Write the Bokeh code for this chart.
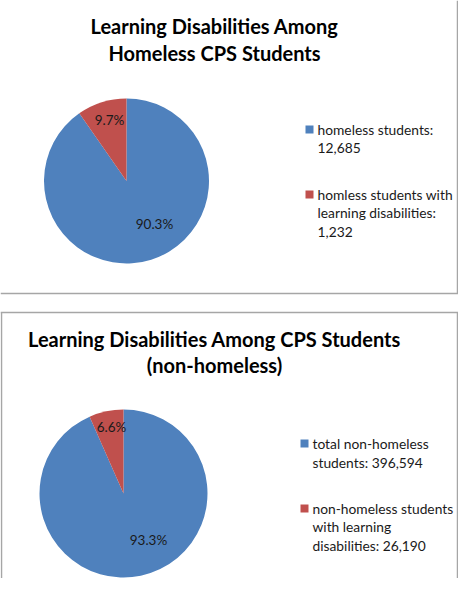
import math
from bokeh.plotting import figure
from bokeh.models import Range1d
from bokeh.core.properties import value
from bokeh.embed import file_html
from bokeh.resources import INLINE

# ---- data ----
top_title = ["Learning Disabilities Among", "Homeless CPS Students"]
top_labels = ["homeless students:\n12,685", "homless students with\nlearning disabilities:\n1,232"]
top_pct = [90.3, 9.7]

bot_title = ["Learning Disabilities Among CPS Students", "(non-homeless)"]
bot_labels = ["total non-homeless\nstudents: 396,594", "non-homeless students\nwith learning\ndisabilities: 26,190"]
bot_pct = [93.3, 6.6]

colors = ["#4F81BD", "#C0504D"]

W, H = 458, 578
p = figure(width=W, height=H, output_backend="svg", toolbar_location=None,
           x_range=Range1d(0, W), y_range=Range1d(0, H), min_border=0)
p.axis.visible = False
p.grid.visible = False
p.outline_line_color = None
p.background_fill_color = "white"

def fx(x): return x
def fy(y): return H - y

FONT = value("Lato")

def draw_panel(title, title_ys, labels, pct, cx, cy, r, lab_pos, leg_sq, leg_tx, leg_ys, title_size):
    # title
    p.text(x=[fx(214)] * len(title), y=[fy(v) for v in title_ys], text=title,
           text_font=FONT, text_font_style="bold", text_font_size=title_size,
           text_align="center", text_baseline="middle", text_color="#000000")
    # pie: blue slice clockwise from 12 o'clock, red fills the rest (left of 12 o'clock)
    total = sum(pct)
    fr = pct[1] / total
    starts = [math.pi / 2 + 2 * math.pi * fr, math.pi / 2]
    ends = [math.pi / 2 + 2 * math.pi, math.pi / 2 + 2 * math.pi * fr]
    p.wedge(x=[fx(cx)] * 2, y=[fy(cy)] * 2, radius=r, start_angle=starts, end_angle=ends,
            fill_color=colors, line_color=None)
    # percent labels (blue first, red second)
    p.text(x=[fx(a) for a, b in lab_pos], y=[fy(b) for a, b in lab_pos],
           text=["%.1f%%" % v for v in pct], text_font=FONT, text_font_size="13.5px",
           text_align="center", text_baseline="middle", text_color="#1a1a1a")
    # legend
    for i, lab in enumerate(labels):
        lines = lab.split("\n")
        ys = leg_ys[i]
        p.rect(x=[fx(leg_sq)], y=[fy(ys[0])], width=8, height=8, fill_color=colors[i], line_color=None)
        p.text(x=[fx(leg_tx)] * len(lines), y=[fy(v) for v in ys[:len(lines)]], text=lines,
               text_font=FONT, text_font_size="13.8px", text_align="left",
               text_baseline="middle", text_color="#1a1a1a")

draw_panel(top_title, [25, 52], top_labels, top_pct, 126, 180.5, 82.5,
           [(154, 223), (109, 119)], 309, 317, [[129, 147], [194, 212, 231]], "20px")
draw_panel(bot_title, [338, 364], bot_labels, bot_pct, 123, 493, 84,
           [(148, 539), (111, 426)], 304, 312, [[443, 462], [508, 526, 545]], "20px")

# panel borders
gray = "#A6A6A6"
p.line(x=[0, W], y=[fy(293), fy(293)], line_color=gray, line_width=1.5)
p.line(x=[W - 1, W - 1], y=[fy(0), fy(293)], line_color=gray, line_width=1.5)
p.line(x=[0, W], y=[fy(312), fy(312)], line_color=gray, line_width=1.5)
p.line(x=[W - 1, W - 1], y=[fy(312), 0], line_color=gray, line_width=1.5)
p.line(x=[1, 1], y=[fy(312), 0], line_color=gray, line_width=1.5)

open("out.html", "w").write(file_html(p, INLINE))
